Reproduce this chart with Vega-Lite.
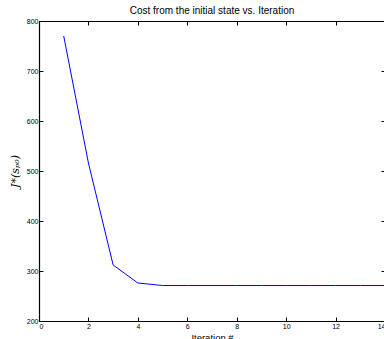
{
  "$schema": "https://vega.github.io/schema/vega-lite/v6.json",
  "autosize": "none",
  "width": 346,
  "height": 300,
  "padding": {"left": 39, "top": 21, "right": 0, "bottom": 18},
  "background": "white",
  "config": {
    "view": {"stroke": "black", "strokeWidth": 1},
    "axis": {"grid": false, "domainColor": "black", "tickColor": "black", "labelColor": "black", "labelFont": "Liberation Sans", "labelFontSize": 7, "tickSize": -4, "domainWidth": 1.2}
  },
  "title": {"text": "Cost from the initial state vs. Iteration", "font": "Liberation Sans", "fontSize": 10, "fontWeight": "normal", "color": "black", "offset": 1},
  "data": {"values": [
    {"iter": 1, "cost": 770},
    {"iter": 2, "cost": 516},
    {"iter": 3, "cost": 312},
    {"iter": 4, "cost": 276},
    {"iter": 5, "cost": 271},
    {"iter": 6, "cost": 271},
    {"iter": 7, "cost": 271},
    {"iter": 8, "cost": 271},
    {"iter": 9, "cost": 271},
    {"iter": 10, "cost": 271},
    {"iter": 11, "cost": 271},
    {"iter": 12, "cost": 271},
    {"iter": 13, "cost": 271},
    {"iter": 14, "cost": 271}
  ]},
  "layer": [
    {
      "mark": {"type": "line", "color": "#0000ff", "strokeWidth": 1},
      "encoding": {
        "x": {"field": "iter", "type": "quantitative", "scale": {"domain": [0, 14], "nice": false}, "axis": {"values": [0,2,4,6,8,10,12,14], "title": "Iteration #", "titleFont": "Liberation Sans", "titleFontSize": 9.5, "titleFontWeight": "normal", "titleColor": "black", "titlePadding": 3, "labelPadding": 5}},
        "y": {"field": "cost", "type": "quantitative", "scale": {"domain": [200, 800], "nice": false, "zero": false}, "axis": {"values": [200,300,400,500,600,700,800], "title": "J*(sₚ₀)", "titleFont": "DejaVu Serif", "titleFontStyle": "italic", "titleFontSize": 11, "titleFontWeight": "normal", "titleColor": "black", "titlePadding": 6, "labelPadding": 5}}
      }
    },
    {
      "mark": {"type": "point", "opacity": 0},
      "encoding": {
        "x": {"field": "iter", "type": "quantitative", "scale": {"domain": [0, 14], "nice": false}, "axis": {"orient": "top", "values": [0,2,4,6,8,10,12,14], "labels": false, "title": null}},
        "y": {"field": "cost", "type": "quantitative", "scale": {"domain": [200, 800], "nice": false, "zero": false}, "axis": {"orient": "right", "values": [200,300,400,500,600,700,800], "labels": false, "title": null}}
      }
    }
  ],
  "resolve": {"axis": {"x": "independent", "y": "independent"}}
}
